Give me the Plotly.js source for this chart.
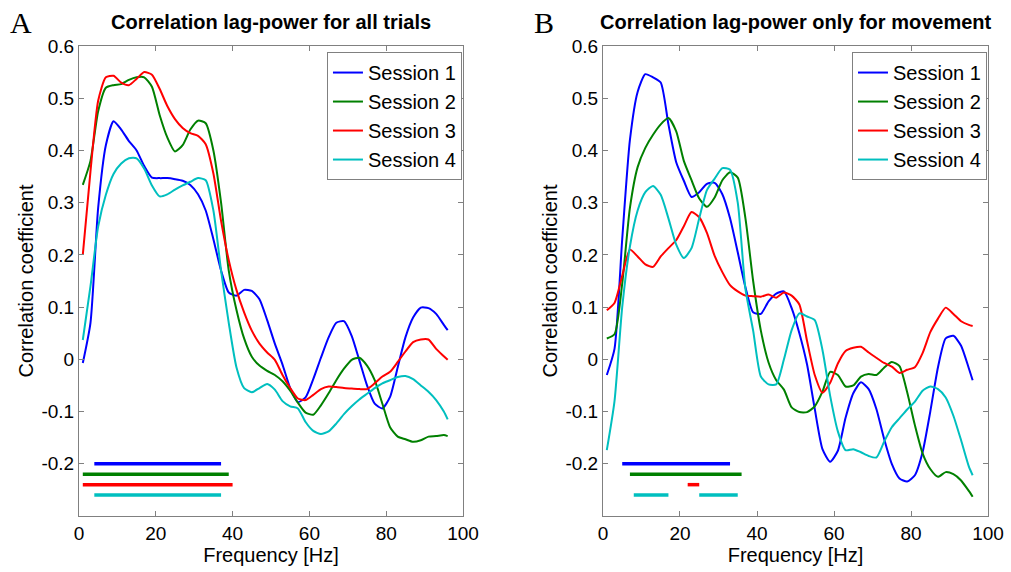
<!DOCTYPE html>
<html>
<head>
<meta charset="utf-8">
<script src="https://cdn.plot.ly/plotly-3.0.1.min.js"></script>
<style>html,body{margin:0;padding:0;background:#fff;}#chart{width:1011px;height:572px;}</style>
</head>
<body>
<div id="chart"></div>
<script>
// Frequency grid [Hz]
const freq = [1,3,5,7,9,11,13,15,17,19,21,23,25,27,29,31,33,35,37,39,41,43,45,47,49,51,53,55,57,59,61,63,65,67,69,71,73,75,77,79,81,83,85,87,89,91,93,95,96];

const sessionNames = ['Session 1','Session 2','Session 3','Session 4'];
const sessionColors = ['#0000ff','#008000','#ff0000','#00bfbf'];

// Panel A: all trials
const allS1 = [-0.007,0.07,0.29,0.41,0.456,0.44,0.418,0.40,0.37,0.348,0.347,0.347,0.345,0.342,0.334,0.316,0.285,0.23,0.17,0.128,0.122,0.133,0.131,0.115,0.075,0.03,-0.01,-0.055,-0.082,-0.073,-0.038,0.003,0.042,0.07,0.073,0.045,-0.002,-0.05,-0.085,-0.094,-0.072,-0.015,0.042,0.08,0.099,0.098,0.087,0.066,0.056];
const allS2 = [0.334,0.38,0.475,0.52,0.525,0.527,0.535,0.54,0.54,0.522,0.468,0.425,0.398,0.41,0.44,0.457,0.452,0.40,0.30,0.17,0.095,0.04,0.005,-0.012,-0.022,-0.03,-0.042,-0.06,-0.083,-0.102,-0.106,-0.088,-0.065,-0.04,-0.018,-0.001,0.003,-0.012,-0.04,-0.085,-0.13,-0.148,-0.153,-0.158,-0.155,-0.148,-0.147,-0.145,-0.147];
const allS3 = [0.2,0.36,0.495,0.54,0.543,0.53,0.525,0.537,0.55,0.545,0.518,0.485,0.46,0.443,0.433,0.428,0.412,0.356,0.265,0.19,0.133,0.09,0.055,0.03,0.013,-0.001,-0.03,-0.055,-0.075,-0.078,-0.068,-0.057,-0.052,-0.053,-0.055,-0.056,-0.057,-0.057,-0.046,-0.033,-0.024,-0.005,0.015,0.033,0.038,0.038,0.02,0.006,-0.001];
const allS4 = [0.037,0.14,0.254,0.315,0.355,0.375,0.385,0.385,0.365,0.333,0.312,0.316,0.325,0.333,0.34,0.347,0.343,0.285,0.17,0.07,-0.015,-0.055,-0.063,-0.055,-0.047,-0.058,-0.08,-0.09,-0.094,-0.12,-0.137,-0.143,-0.138,-0.123,-0.105,-0.09,-0.077,-0.066,-0.055,-0.046,-0.04,-0.034,-0.032,-0.038,-0.05,-0.062,-0.078,-0.1,-0.115];

// Panel B: only movement
const movS1 = [-0.03,0.02,0.23,0.42,0.512,0.546,0.54,0.53,0.45,0.378,0.342,0.311,0.32,0.336,0.338,0.316,0.27,0.205,0.138,0.09,0.087,0.111,0.126,0.13,0.098,0.05,-0.01,-0.095,-0.172,-0.196,-0.175,-0.112,-0.065,-0.044,-0.057,-0.095,-0.152,-0.2,-0.228,-0.234,-0.222,-0.178,-0.1,-0.015,0.04,0.045,0.026,-0.017,-0.04];
const movS2 = [0.04,0.048,0.145,0.29,0.368,0.405,0.43,0.45,0.462,0.437,0.38,0.343,0.308,0.292,0.31,0.343,0.358,0.348,0.27,0.15,0.055,-0.006,-0.04,-0.058,-0.092,-0.101,-0.101,-0.09,-0.062,-0.024,-0.03,-0.052,-0.05,-0.033,-0.028,-0.03,-0.016,-0.005,-0.013,-0.063,-0.126,-0.18,-0.21,-0.225,-0.216,-0.22,-0.232,-0.252,-0.263];
const movS3 = [0.094,0.108,0.16,0.21,0.197,0.182,0.177,0.197,0.213,0.228,0.255,0.282,0.272,0.242,0.198,0.167,0.142,0.13,0.122,0.121,0.12,0.124,0.118,0.128,0.122,0.105,0.035,-0.03,-0.064,-0.045,-0.008,0.016,0.022,0.024,0.013,0.003,-0.007,-0.014,-0.026,-0.02,-0.015,0.012,0.052,0.078,0.099,0.087,0.073,0.066,0.064];
const movS4 = [-0.174,-0.08,0.1,0.216,0.285,0.32,0.332,0.315,0.27,0.22,0.194,0.213,0.27,0.324,0.346,0.366,0.363,0.3,0.135,0.055,-0.033,-0.048,-0.048,0.0,0.056,0.088,0.082,0.075,0.018,-0.07,-0.138,-0.174,-0.172,-0.178,-0.185,-0.188,-0.158,-0.13,-0.113,-0.096,-0.081,-0.06,-0.052,-0.057,-0.073,-0.108,-0.155,-0.205,-0.222];

// Significant frequency ranges [Hz] (null separates segments) and their plotting levels
const sigFreqA = [[4,37],[1,39],[1,40],[4,37]];
const sigFreqB = [[5,33],[7,36],[22,25],[8,17,null,25,35]];
const sigLevel = [-0.20,-0.22,-0.24,-0.26];

// Tick labels
const yTickVals = [-0.2,-0.1,0,0.1,0.2,0.3,0.4,0.5,0.6];
const yTickText = ['-0.2','-0.1','0','0.1','0.2','0.3','0.4','0.5','0.6'];
const xTickVals = [0,20,40,60,80,100];

const panelTitles = ['Correlation lag-power for all trials','Correlation lag-power only for movement'];

const allSeries = [allS1, allS2, allS3, allS4];
const movSeries = [movS1, movS2, movS3, movS4];

const traces = [];
function addPanel(series, sig, xa, ya, legendName) {
  series.forEach((vals, i) => {
    traces.push({
      x: freq, y: vals, type: 'scatter', mode: 'lines',
      name: sessionNames[i], xaxis: xa, yaxis: ya, legend: legendName,
      legendgroup: legendName + i,
      line: {color: sessionColors[i], width: 2, shape: 'spline', smoothing: 0.6},
      hoverinfo: 'skip'
    });
  });
  sig.forEach((seg, i) => {
    traces.push({
      x: seg, y: seg.map(v => v === null ? null : sigLevel[i]),
      type: 'scatter', mode: 'lines', showlegend: false,
      xaxis: xa, yaxis: ya, connectgaps: false,
      line: {color: sessionColors[i], width: 3.5}, hoverinfo: 'skip'
    });
  });
}
addPanel(allSeries, sigFreqA, 'x', 'y', 'legend');
addPanel(movSeries, sigFreqB, 'x2', 'y2', 'legend2');

const FONT = 'Liberation Sans, Arial, Helvetica, sans-serif';
const axisCommon = {
  showline: true, linecolor: '#808080', linewidth: 1, mirror: 'ticks',
  ticks: 'inside', ticklen: 5, tickcolor: '#808080', tickwidth: 1,
  showgrid: false, zeroline: false,
  tickfont: {family: FONT, size: 19, color: '#000'}
};
function xAxis(domain, anchor) {
  return Object.assign({}, axisCommon, {
    domain: domain, anchor: anchor, range: [0, 100], tickvals: xTickVals,
    title: {text: 'Frequency [Hz]', font: {family: FONT, size: 20, color: '#000'}, standoff: 0}
  });
}
function yAxis(domain, anchor) {
  return Object.assign({}, axisCommon, {
    domain: domain, anchor: anchor, range: [-0.3, 0.6], tickvals: yTickVals, ticktext: yTickText,
    title: {text: 'Correlation coefficient', font: {family: FONT, size: 20, color: '#000'}, standoff: 2}
  });
}
const legendCommon = {
  xanchor: 'left', yanchor: 'top', bgcolor: '#fff', bordercolor: '#808080', borderwidth: 1,
  font: {family: FONT, size: 20, color: '#000'}, tracegroupgap: 0, itemwidth: 30
};

const layout = {
  width: 1011, height: 572,
  margin: {l: 0, r: 0, t: 0, b: 0},
  paper_bgcolor: '#fff', plot_bgcolor: '#fff',
  showlegend: true,
  xaxis: xAxis([0.0781, 0.458], 'y'),
  yaxis: yAxis([0.0979, 0.9196], 'x'),
  xaxis2: xAxis([0.5964, 0.9773], 'y2'),
  yaxis2: yAxis([0.0979, 0.9196], 'x2'),
  legend: Object.assign({}, legendCommon, {x: 0.3234, y: 0.909}),
  legend2: Object.assign({}, legendCommon, {x: 0.8427, y: 0.909}),
  annotations: [
    {text: panelTitles[0], xref: 'paper', yref: 'paper', x: 0.268, y: 0.9615, xanchor: 'center', yanchor: 'middle', showarrow: false,
     font: {family: FONT, size: 20, color: '#000', weight: 'bold'}},
    {text: panelTitles[1], xref: 'paper', yref: 'paper', x: 0.7873, y: 0.9615, xanchor: 'center', yanchor: 'middle', showarrow: false,
     font: {family: FONT, size: 20, color: '#000', weight: 'bold'}},
    {text: 'A', xref: 'paper', yref: 'paper', x: 0.0208, y: 0.9615, xanchor: 'center', yanchor: 'middle', showarrow: false,
     font: {family: 'Liberation Serif, Times New Roman, serif', size: 30, color: '#000'}},
    {text: 'B', xref: 'paper', yref: 'paper', x: 0.538, y: 0.9615, xanchor: 'center', yanchor: 'middle', showarrow: false,
     font: {family: 'Liberation Serif, Times New Roman, serif', size: 30, color: '#000'}}
  ]
};

Plotly.newPlot('chart', traces, layout, {staticPlot: true, displayModeBar: false});
</script>
</body>
</html>
